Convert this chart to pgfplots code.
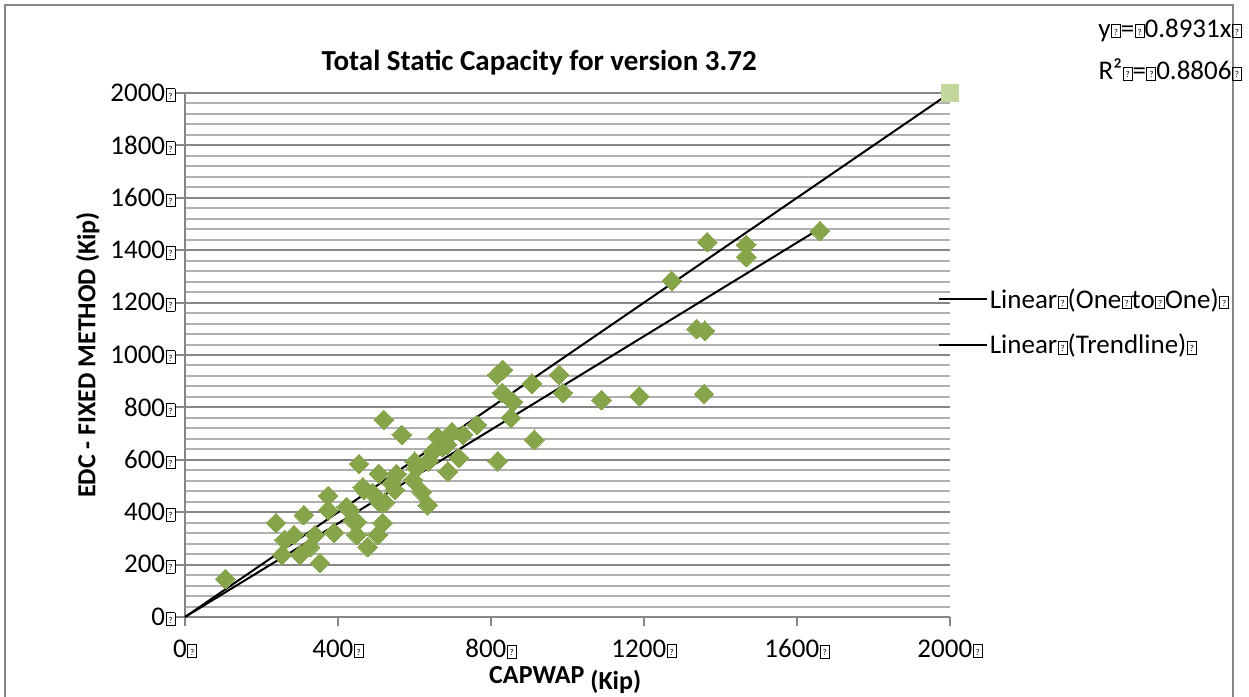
\documentclass[border=0pt]{standalone}
\usepackage{pgfplots}
\pgfplotsset{compat=1.18}
\usepackage{pgfplotstable}
\usepackage{fontspec}
\setmainfont{Carlito}

\definecolor{ptgreen}{RGB}{134,164,74}
\definecolor{sqgreen}{RGB}{195,214,155}
\definecolor{majgrid}{RGB}{134,134,134}
\definecolor{mingrid}{RGB}{176,176,176}

% small placeholder box that follows every label
\newcommand\gb{\kern0.5pt{\setlength{\fboxsep}{0pt}\setlength{\fboxrule}{0.9pt}%
  \fbox{\makebox[8pt]{\rule{0pt}{12pt}\raisebox{2pt}{\fontsize{9}{9}\selectfont ?}}}}}

\pgfplotstableread{
x     y
105   145
238   359
311   389
261   294
285   313
254   237
301   237
327   267
353   206
340   313
374   462
374   408
390   322
423   420
439   370
431   408
449   363
449   313
455   584
465   496
468   485
491   473
478   267
504   313
517   359
507   546
510   435
522   437
549   485
553   546
541   511
520   752
567   695
596   523
619   477
635   427
606   569
636   595
601   592
661   687
674   649
685   657
648   630
698   706
687   555
716   607
727   695
763   733
818   595
831   943
816   924
829   855
857   821
852   760
907   890
913   676
978   924
988   855
1089  828
1188  842
1273  1283
1365  1431
1467  1420
1467  1374
1338  1099
1359  1092
1357  851
1660  1473
}\capacity

\begin{document}
\begin{tikzpicture}[x=1pt,y=1pt]
\useasboundingbox (0,0) rectangle (1249,696);
% chart frame
\draw[majgrid, line width=2pt] (5,-10) -- (5,691) -- (1233,691) -- (1233,-10);

\begin{axis}[
  at={(185pt,79pt)}, anchor=south west,
  scale only axis, width=765pt, height=524pt,
  xmin=0, xmax=2000, ymin=0, ymax=2000,
  clip=false,
  axis x line=bottom, axis y line=left,
  axis line style={majgrid, line width=2pt, -},
  xtick={0,400,...,2000}, ytick={0,200,...,2000},
  minor y tick num=4,
  ymajorgrids, yminorgrids,
  major grid style={majgrid, line width=2pt},
  minor grid style={mingrid, line width=2pt},
  tick align=outside,
  major tick length=9pt, minor tick length=0pt,
  tick style={majgrid, line width=2pt},
  xticklabel={\pgfmathprintnumber[assume math mode=true,1000 sep={}]{\tick}\gb},
  yticklabel={\pgfmathprintnumber[assume math mode=true,1000 sep={}]{\tick}\gb},
  ticklabel style={font=\fontsize{27}{30}\selectfont},
  yticklabel style={xshift=3pt},
  xticklabel style={yshift=-10pt},
  title={Total Static Capacity for version 3.72},
  title style={at={(0.463,1)}, anchor=center, yshift=24pt,
    font=\fontsize{29}{33}\selectfont\bfseries},
  xlabel={CAPWAP \raisebox{-0.25em}{(Kip)}},
  xlabel style={at={(axis description cs:0.497,0)}, anchor=center, yshift=-63pt,
    font=\fontsize{26}{30}\selectfont\bfseries},
  ylabel={EDC - FIXED METHOD (Kip)},
  ylabel style={at={(axis description cs:-0.127,0.5)}, anchor=center,
    font=\fontsize{26}{30}\selectfont\bfseries},
  legend style={draw=none, fill=none, at={(0.98,0.563)}, anchor=west,
    font=\fontsize{27}{30}\selectfont, row sep=20pt,
    /tikz/every even column/.append style={column sep=6pt}},
  legend cell align=left,
  legend image code/.code={\draw[#1] (0pt,0pt) -- (48pt,0pt);},
]
% measured capacities
\addplot[only marks, mark=square*, mark size=7pt,
  mark options={rotate=45, fill=ptgreen, draw=ptgreen, line width=0pt}, forget plot]
  table[x=x, y=y] {\capacity};
% end point of the one-to-one series
\addplot[only marks, mark=square*, mark size=8.5pt,
  mark options={fill=sqgreen, draw=sqgreen}, forget plot]
  coordinates {(2000,2000)};
% fitted lines
\addplot[black, line width=2pt] coordinates {(0,0) (2000,2000)};
\addlegendentry{Linear\gb(One\gb to\gb One)\gb}
\addplot[black, line width=2pt] coordinates {(0,0) (1660,1482.5)};
\addlegendentry{Linear\gb(Trendline)\gb}
\end{axis}

\node[anchor=east, font=\fontsize{27}{30}\selectfont, inner sep=0pt] at (1242,666) {y\gb=\gb0.8931x\gb};
\node[anchor=east, font=\fontsize{27}{30}\selectfont, inner sep=0pt] at (1242,626) {R²\gb=\gb0.8806\gb};
\end{tikzpicture}
\end{document}
